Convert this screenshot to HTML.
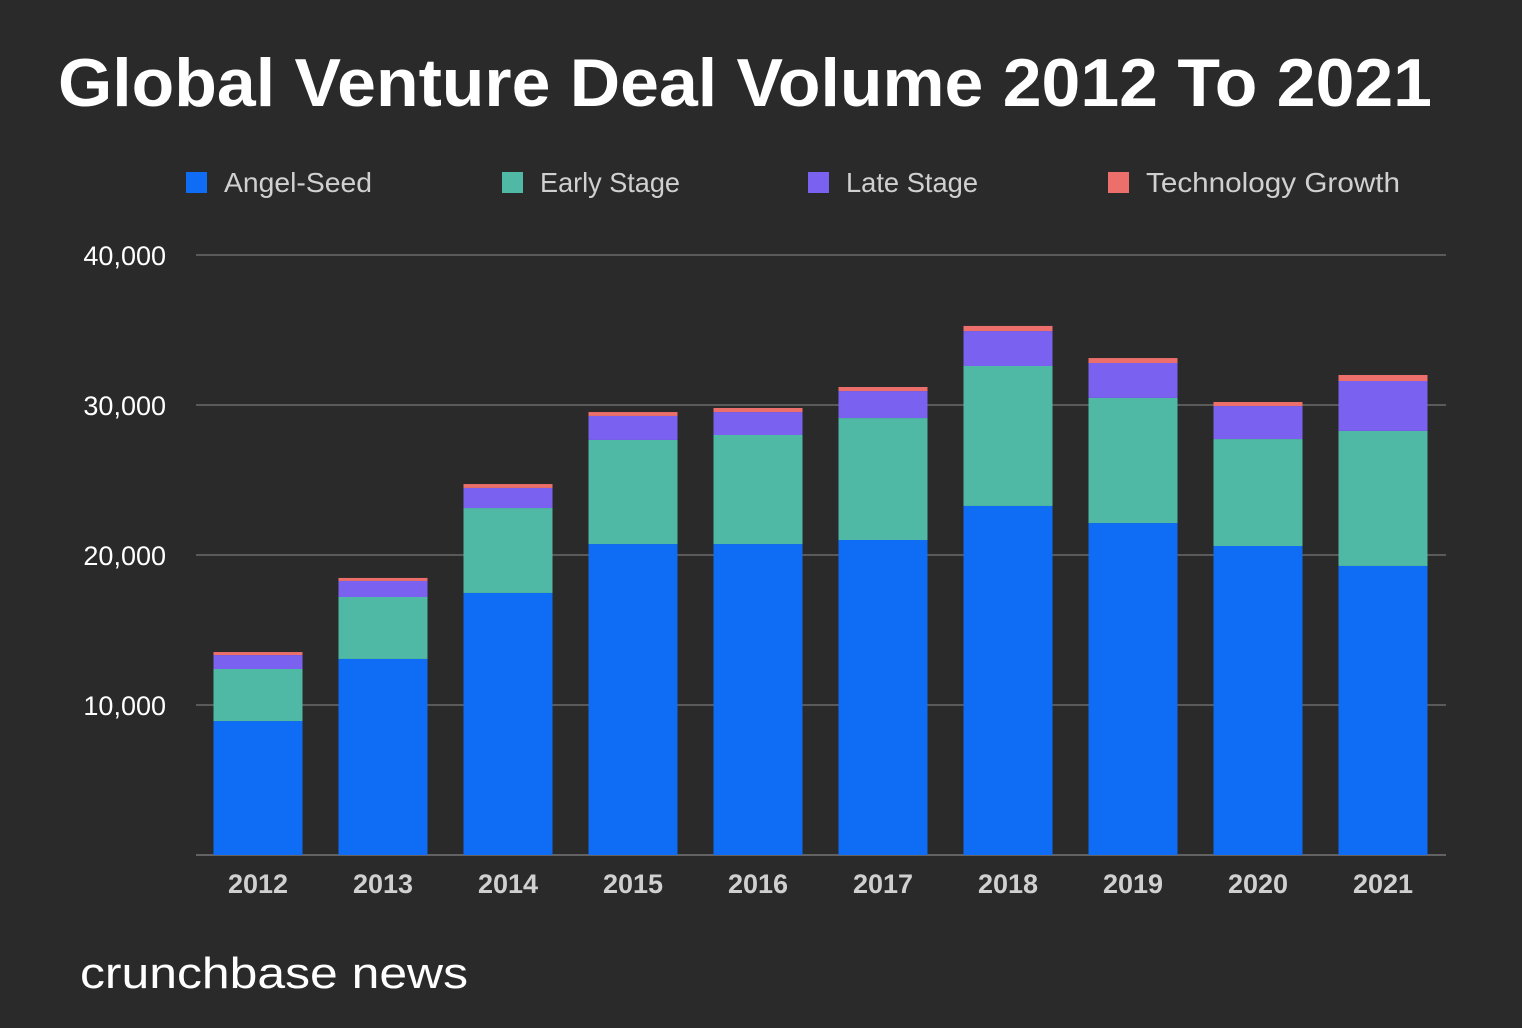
<!DOCTYPE html>
<html><head><meta charset="utf-8"><style>
body{margin:0;background:#2a2a2a;width:1522px;height:1028px;overflow:hidden;font-family:"Liberation Sans",sans-serif}
svg{display:block}
</style></head><body>
<svg id="c" width="1522" height="1028">
<rect width="1522" height="1028" fill="#2a2a2a"/>
<text x="58" y="106" fill="#fff" font-size="68" font-weight="bold" textLength="1374" lengthAdjust="spacingAndGlyphs">Global Venture Deal Volume 2012 To 2021</text>
<text x="80" y="988" fill="#fff" font-size="44" textLength="388" lengthAdjust="spacingAndGlyphs">crunchbase news</text>
<g id="legend"></g><g id="grid"></g><g id="bars"></g><g id="xlab"></g>
</svg>
<script>
const years=["2012","2013","2014","2015","2016","2017","2018","2019","2020","2021"];
const angelSeed=[8930,13070,17470,20730,20730,21000,23270,22130,20600,19270];
const earlyStage=[3470,4130,5660,6940,7270,8130,9330,8340,7130,9000];
const lateStage=[930,1070,1340,1600,1530,1800,2330,2330,2200,3330];
const techGrowth=[200,200,260,260,270,270,340,330,270,400];
const yTicks=[10000,20000,30000,40000];
const yTickLabels=["10,000","20,000","30,000","40,000"];
const seriesNames=["Angel-Seed","Early Stage","Late Stage","Technology Growth"];
const colors=["#0f6cf5","#4fb9a6","#7b61f0","#ec6f6b"];
const NS="http://www.w3.org/2000/svg";
const y0=855,pxPer=600/40000,x0=258,step=125,bw=89;
const y=v=>y0-v*pxPer, x=i=>x0+i*step;
function mk(tag,attrs,parent){const e=document.createElementNS(NS,tag);for(const k in attrs)e.setAttribute(k,attrs[k]);document.getElementById(parent).appendChild(e);return e;}
mk("line",{x1:196,x2:1446,y1:y0,y2:y0,stroke:"#9a9a9a","stroke-width":1},"grid");
yTicks.forEach((t,i)=>{
 const l=mk("line",{x1:196,x2:1446,y1:y(t),y2:y(t),stroke:"#8a8a8a","stroke-width":1},"grid");
 
 
 const tx=mk("text",{x:166,y:y(t)+10,fill:"#fff","font-size":27,"text-anchor":"end"},"grid");
 tx.textContent=yTickLabels[i];
 
 
});
const series=[angelSeed,earlyStage,lateStage,techGrowth];
years.forEach((yr,i)=>{
 let base=0;
 series.forEach((s,k)=>{
  const r=mk("rect",{x:x(i)-bw/2,y:y(base+s[i]),width:bw,height:s[i]*pxPer,fill:colors[k]},"bars");
  
  
  base+=s[i];
 });
 const t=mk("text",{x:x(i),y:893,fill:"#d0d0d0","font-size":27,"font-weight":"bold","text-anchor":"middle"},"xlab");
 t.textContent=yr;
 
 
});
const lx=[186,502,808,1108];
const lw=[148,140,132,254];
seriesNames.forEach((n,k)=>{
 const r=mk("rect",{x:lx[k],y:172,width:21,height:21,fill:colors[k]},"legend");
 
 
 const t=mk("text",{x:lx[k]+38,y:192,fill:"#d0d0d0","font-size":28,textLength:lw[k],lengthAdjust:"spacingAndGlyphs"},"legend");
 t.textContent=n;
 
 
});
</script>
</body></html>
